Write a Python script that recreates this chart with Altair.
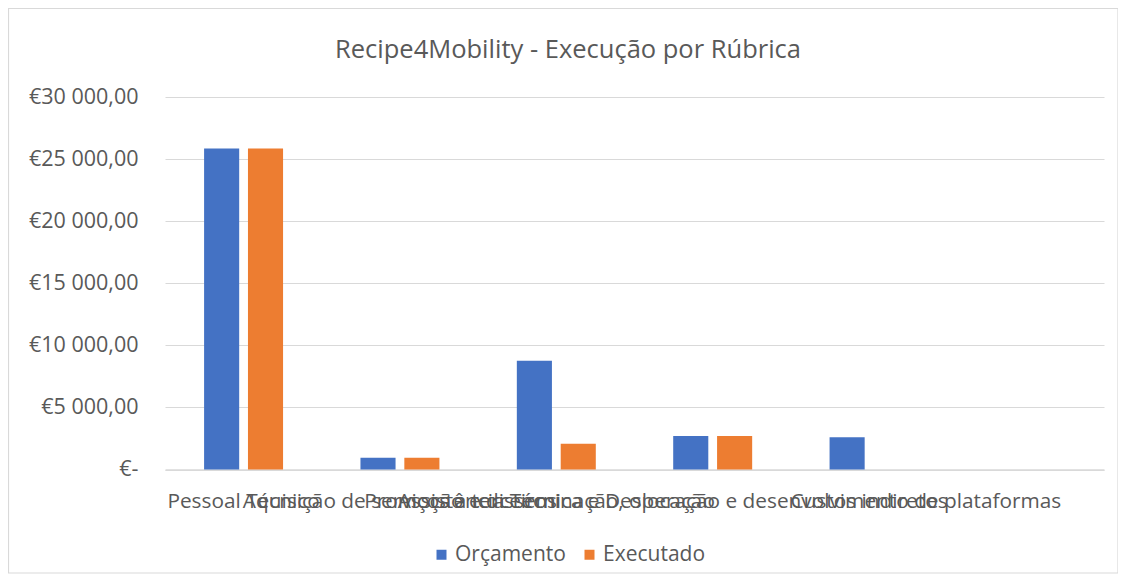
import altair as alt
import pandas as pd

title_text = "Recipe4Mobility - Execução por Rúbrica"
categories = [
    "Pessoal Técnico",
    "Aquisição de serviços a terceiros",
    "Assistência Técnica e Deslocação",
    "Promoção e disseminação, operação e desenvolvimento de plataformas",
    "Custos indiretos",
    " ",
]
series = ["Orçamento", "Executado"]
orcamento = [25850, 950, 8750, 2700, 2600, 0]
executado = [25850, 950, 2080, 2700, 0, 0]
colors = ["#4472C4", "#ED7D31"]
y_ticks = [0, 5000, 10000, 15000, 20000, 25000, 30000]

rows = []
for c, o, e in zip(categories, orcamento, executado):
    rows.append({"Rubrica": c, "Série": series[0], "Valor": o})
    rows.append({"Rubrica": c, "Série": series[1], "Valor": e})
df = pd.DataFrame(rows)

FONT = "Open Sans"
GREY = "#595959"

label_expr = (
    "datum.value == 0 ? '€-\u00a0\u00a0\u00a0' : "
    "'€' + replace(replace(format(datum.value, ',.2f'), ',', ' '), '.', ',')"
)

bars = alt.Chart(df).mark_bar().encode(
    x=alt.X(
        "Rubrica:N",
        sort=categories,
        scale=alt.Scale(paddingInner=0.495, paddingOuter=0.25),
        axis=alt.Axis(
            title=None,
            labelAngle=0,
            labelOverlap=False,
            labelLimit=0,
            labelFont=FONT,
            labelFontSize=20.8,
            labelColor=GREY,
            labelPadding=22,
            ticks=False,
            domainColor="#D9D9D9",
            domainWidth=1.5,
        ),
    ),
    xOffset=alt.XOffset(
        "Série:N",
        sort=series,
        scale=alt.Scale(paddingInner=0.2, paddingOuter=0),
    ),
    y=alt.Y(
        "Valor:Q",
        scale=alt.Scale(domain=[0, 30000], nice=False),
        axis=alt.Axis(
            title=None,
            values=y_ticks,
            labelExpr=label_expr,
            labelFont=FONT,
            labelFontSize=21.5,
            labelColor=GREY,
            labelPadding=27,
            ticks=False,
            domain=False,
            gridColor="#D9D9D9",
            gridWidth=1.2,
        ),
    ),
    color=alt.Color(
        "Série:N",
        sort=series,
        scale=alt.Scale(domain=series, range=colors),
        legend=alt.Legend(
            title=None,
            orient="none",
            legendX=266,
            legendY=447,
            direction="horizontal",
            symbolType="square",
            symbolSize=100,
            symbolStrokeWidth=0,
            labelFont=FONT,
            labelFontSize=21,
            labelColor=GREY,
            labelOffset=3,
            columnPadding=13,
        ),
    ),
)

one = alt.Data(values=[{"k": 1}])

frame = alt.Chart(one).mark_rect(
    fill=None, stroke="#D9D9D9", strokeWidth=1.2
).encode(
    x=alt.value(-156.5),
    x2=alt.value(953),
    y=alt.value(-88.5),
    y2=alt.value(476),
)

title = alt.Chart(one).mark_text(
    text=title_text,
    font=FONT,
    fontSize=25.5,
    color=GREY,
    align="center",
    baseline="alphabetic",
).encode(
    x=alt.value(403),
    y=alt.value(-39),
)

chart = alt.layer(frame, title, bars).properties(
    width=939,
    height=372.5,
    padding={"left": 157, "top": 89, "right": 14, "bottom": 104},
    autosize=alt.AutoSizeParams(type="none"),
).configure_view(stroke=None)

chart.save("out.html", embed_options={"renderer": "svg", "actions": False})
